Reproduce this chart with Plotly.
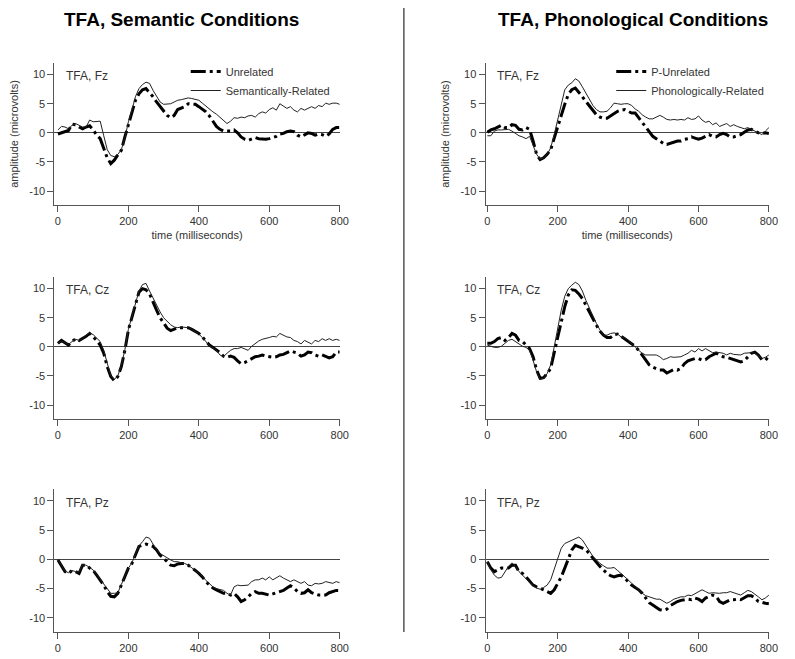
import plotly.graph_objects as go

# time axis (ms), sampled every 10 ms
t = list(range(0, 801, 10))

# --- TFA, Semantic conditions ---
fz_sem_unrel = [-0.2, 0.0, 0.2, 0.4, 1.5, 1.4, 1.0, 0.7, 1.0, 1.2,
                0.5, -0.4, -1.0, -2.8, -4.3, -5.3, -4.7, -3.8, -3.0, -0.7,
                1.3, 3.3, 5.6, 6.7, 7.4, 7.6, 6.9, 6.2, 5.3, 4.5,
                3.6, 3.0, 2.6, 3.0, 4.0, 4.3, 4.5, 5.0, 5.0, 4.9,
                4.5, 4.0, 3.6, 2.9, 2.1, 1.1, 0.6, 0.3, 0.3, 0.3,
                0.5, 0.0, -0.7, -1.1, -1.3, -1.1, -0.8, -1.0, -1.1, -1.1,
                -1.0, -0.8, -0.6, -0.2, -0.1, 0.2, 0.3, 0.2, -0.4, -0.7,
                -0.4, 0.0, -0.1, -0.4, -0.2, -0.3, -0.6, -0.2, 0.6, 0.9,
                0.9]
fz_sem_rel = [0.5, 1.1, 1.0, 0.7, 1.3, 1.6, 1.3, 1.0, 1.0, 2.2,
              1.9, 1.9, 2.0, -0.5, -2.9, -3.9, -4.1, -3.7, -2.9, -0.9,
              1.9, 3.9, 6.2, 7.6, 8.3, 8.7, 8.5, 7.3, 6.2, 5.3,
              4.9, 4.9, 5.0, 5.3, 5.6, 5.7, 5.9, 6.0, 5.9, 5.8,
              5.6, 5.1, 4.6, 4.0, 3.6, 3.2, 2.7, 2.2, 1.6, 2.0,
              2.6, 2.5, 2.7, 2.6, 2.9, 3.0, 2.7, 3.3, 3.6, 3.4,
              4.0, 4.3, 3.9, 5.0, 4.6, 4.2, 4.5, 3.9, 3.6, 4.2,
              3.9, 4.2, 4.5, 4.2, 4.7, 4.5, 5.1, 4.9, 5.1, 5.1,
              4.9]
cz_sem_unrel = [0.6, 1.1, 0.7, 0.3, 0.9, 1.4, 1.1, 1.4, 1.8, 2.3,
                1.7, 1.1, 0.3, -1.1, -3.4, -5.1, -5.8, -5.1, -3.4, -0.6,
                2.9, 5.1, 7.4, 9.4, 10.0, 9.8, 9.1, 7.6, 6.3, 5.0,
                4.0, 3.2, 2.8, 3.1, 3.3, 3.3, 3.3, 3.3, 3.0, 2.6,
                2.3, 1.7, 0.9, 0.3, -0.1, -0.5, -1.0, -1.6, -1.8, -1.6,
                -1.8, -2.4, -2.9, -2.7, -2.4, -2.0, -1.7, -1.6, -1.4, -1.6,
                -1.7, -1.8, -1.7, -1.4, -1.3, -1.0, -0.7, -0.9, -1.1, -1.6,
                -1.4, -0.9, -1.0, -1.4, -1.6, -1.4, -1.7, -1.9, -1.7, -0.9,
                -0.9]
cz_sem_rel = [0.6, 1.0, 0.7, 0.4, 0.9, 1.3, 1.1, 1.4, 2.0, 2.4,
              2.1, 1.5, 0.9, -0.6, -3.0, -5.0, -5.6, -5.0, -3.2, -0.5,
              3.0, 5.3, 7.6, 9.6, 10.7, 10.9, 9.6, 8.3, 7.2, 6.0,
              5.0, 4.4, 3.8, 3.4, 3.3, 3.4, 3.4, 3.3, 3.0, 2.6,
              2.2, 1.6, 0.8, 0.2, -0.2, -0.6, -1.4, -1.7, -1.1, -0.6,
              -0.3, -0.3, -0.1, -0.3, -0.6, 0.1, 0.6, 1.0, 1.3, 1.4,
              1.6, 1.8, 1.7, 2.3, 2.0, 1.7, 1.6, 1.1, 0.9, 0.5,
              1.1, 0.8, 0.5, 1.1, 0.9, 1.4, 1.1, 1.4, 1.1, 1.3,
              1.1]
pz_sem_unrel = [-0.1, -1.0, -2.1, -2.4, -1.9, -2.1, -2.4, -1.0, -1.0, -1.5,
                -1.9, -2.7, -3.5, -4.4, -5.5, -6.3, -6.4, -5.8, -4.4, -2.8,
                -1.5, -0.7, 0.7, 2.2, 2.4, 2.6, 2.4, 2.2, 1.6, 0.7,
                0.2, -0.4, -1.0, -1.1, -0.8, -0.7, -0.7, -1.0, -1.4, -1.9,
                -2.4, -3.0, -3.8, -4.4, -4.9, -5.2, -5.5, -5.8, -5.8, -6.1,
                -5.8, -6.4, -7.2, -6.9, -6.4, -5.8, -5.5, -5.8, -5.8, -5.9,
                -6.1, -5.9, -5.7, -5.5, -5.3, -4.9, -4.5, -4.9, -5.5, -5.8,
                -5.7, -5.2, -5.7, -5.9, -6.1, -6.1, -6.1, -5.7, -5.5, -5.3,
                -5.3]
pz_sem_rel = [-0.1, -1.0, -2.0, -2.3, -1.9, -2.1, -2.2, -0.9, -1.0, -1.4,
              -1.8, -2.6, -3.4, -4.3, -5.2, -5.8, -5.8, -5.7, -4.3, -2.8,
              -1.5, -0.6, 0.9, 2.3, 3.0, 3.8, 3.6, 2.7, 1.6, 1.0,
              0.6, 0.2, -0.1, -0.4, -0.4, -0.6, -0.7, -1.0, -1.4, -1.9,
              -2.4, -2.9, -3.6, -4.2, -4.7, -5.0, -5.2, -5.3, -5.8, -6.1,
              -4.7, -4.4, -4.5, -4.5, -4.4, -3.8, -3.5, -3.5, -3.2, -3.5,
              -3.0, -3.5, -3.2, -2.8, -3.2, -3.5, -3.8, -3.5, -3.8, -4.1,
              -3.8, -4.4, -4.5, -4.1, -4.2, -4.1, -3.8, -4.0, -4.1, -3.8,
              -4.0]

# --- TFA, Phonological conditions ---
fz_pho_unrel = [0.1, 0.5, 0.7, 1.0, 1.3, 0.9, 0.9, 1.4, 1.3, 0.6,
                0.5, 0.9, 0.6, -1.4, -3.7, -4.6, -4.3, -3.7, -2.9, -0.9,
                1.1, 2.9, 4.9, 6.6, 7.4, 7.7, 7.0, 6.2, 5.4, 4.6,
                3.7, 3.1, 2.7, 2.5, 2.5, 2.9, 3.3, 3.7, 3.9, 4.0,
                3.7, 3.4, 3.4, 2.6, 1.7, 0.9, 0.1, -0.6, -1.0, -1.4,
                -1.8, -2.0, -1.8, -1.6, -1.4, -1.4, -1.1, -1.0, -0.7, -0.9,
                -1.1, -0.9, -0.6, -0.3, -0.6, -0.7, -0.3, -0.1, -0.3, -0.7,
                -0.7, -0.5, -0.3, 0.1, 0.5, 0.6, 0.3, 0.0, -0.1, 0.0,
                -0.1]
fz_pho_rel = [-0.5, -0.5, 0.3, 0.5, 0.5, 0.5, 0.6, 0.3, -0.1, -0.5,
              -0.7, -1.0, -0.6, -2.0, -3.7, -4.5, -4.3, -3.7, -2.6, -0.3,
              2.3, 5.1, 7.4, 8.2, 8.6, 9.3, 8.9, 7.9, 6.9, 5.8,
              4.7, 4.0, 3.6, 3.6, 3.7, 4.3, 5.1, 5.0, 4.9, 5.0,
              5.0, 4.7, 4.1, 3.7, 3.1, 2.7, 2.4, 2.4, 2.7, 3.0,
              2.7, 2.3, 2.2, 2.3, 2.2, 2.3, 2.2, 2.6, 2.3, 2.4,
              2.9, 2.2, 1.8, 2.0, 1.4, 1.7, 1.1, 1.4, 1.6, 1.1,
              1.4, 1.1, 0.9, 0.7, 0.9, 0.6, 0.3, 0.1, -0.3, 0.3,
              0.9]
cz_pho_unrel = [0.6, 0.6, 0.9, 1.4, 1.6, 1.1, 1.6, 2.3, 2.0, 1.1,
                0.9, 0.3, -0.3, -1.7, -4.0, -5.4, -5.3, -4.6, -3.7, -1.0,
                1.6, 4.0, 6.9, 8.9, 9.8, 9.7, 9.1, 8.3, 7.1, 6.0,
                4.9, 3.7, 2.7, 2.0, 1.6, 1.6, 2.1, 2.2, 1.8, 1.4,
                0.9, 0.5, 0.1, -0.6, -1.4, -2.3, -3.1, -3.5, -3.7, -4.0,
                -4.0, -4.5, -4.2, -3.9, -4.0, -3.7, -2.9, -2.4, -2.2, -2.0,
                -2.0, -2.3, -2.2, -1.7, -1.4, -1.1, -1.4, -1.7, -1.8, -2.0,
                -2.2, -2.3, -2.6, -2.4, -1.8, -1.1, -0.9, -1.4, -2.2, -2.3,
                -1.6]
cz_pho_rel = [0.3, 0.1, -0.1, -0.1, 0.1, 0.6, 1.1, 1.3, 0.9, 0.5,
              0.1, -0.1, -0.6, -2.3, -4.3, -5.6, -5.4, -4.6, -3.1, 0.0,
              3.4, 6.3, 8.7, 10.0, 10.6, 11.1, 10.7, 9.6, 8.0, 6.6,
              5.1, 4.0, 2.9, 2.0, 2.0, 2.3, 2.4, 2.2, 1.7, 1.6,
              1.1, 0.6, 0.0, -0.6, -1.1, -1.4, -1.4, -1.3, -1.4, -1.7,
              -2.2, -2.0, -1.7, -1.8, -1.7, -1.7, -1.4, -1.1, -0.6, -0.9,
              -0.3, -0.7, -0.3, -0.7, -1.0, -0.9, -1.0, -1.1, -1.4, -1.1,
              -1.3, -1.4, -1.4, -1.1, -1.0, -1.0, -1.1, -1.6, -2.0, -1.8,
              -1.4]
pz_pho_unrel = [-0.4, -1.5, -2.1, -1.8, -1.5, -1.5, -1.5, -1.0, -1.0, -2.1,
                -2.4, -3.0, -3.8, -4.4, -4.7, -4.9, -5.2, -5.5, -5.8, -5.2,
                -4.1, -3.0, -1.5, 0.2, 1.6, 2.4, 2.2, 1.9, 1.6, 1.0,
                0.2, -0.6, -1.2, -1.8, -2.4, -2.8, -3.0, -2.8, -2.7, -3.2,
                -3.8, -4.4, -4.8, -5.2, -5.8, -6.6, -7.4, -7.8, -8.2, -8.6,
                -8.7, -8.5, -7.9, -7.5, -7.2, -7.0, -6.9, -6.8, -6.9, -6.6,
                -6.8, -7.2, -6.6, -6.3, -6.1, -6.3, -7.2, -7.5, -7.2, -6.9,
                -6.9, -6.8, -6.9, -6.6, -6.2, -6.2, -6.6, -7.2, -7.4, -7.5,
                -7.6]
pz_pho_rel = [-0.4, -1.8, -2.7, -3.2, -3.1, -2.1, -1.2, -0.6, -1.2, -2.1,
              -2.7, -3.2, -3.8, -4.5, -4.9, -5.1, -4.8, -4.4, -3.5, -1.8,
              0.2, 1.9, 2.7, 3.0, 3.2, 3.6, 3.8, 3.3, 2.4, 1.3,
              0.5, -0.1, -0.7, -1.1, -1.5, -1.5, -1.4, -1.9, -2.4, -3.0,
              -3.5, -4.1, -4.7, -5.2, -5.8, -6.2, -6.4, -6.6, -6.8, -6.8,
              -7.2, -7.5, -7.2, -6.8, -6.6, -6.4, -6.4, -6.1, -6.2, -5.9,
              -5.5, -5.2, -5.5, -5.8, -5.7, -5.8, -5.8, -5.7, -5.7, -5.5,
              -5.7, -5.9, -6.1, -5.7, -5.3, -5.5, -5.9, -6.4, -6.9, -6.6,
              -6.1]

yticks = [-10, -5, 0, 5, 10]
yticklabels = ['-10', '-5', '0', '5', '10']
xticks = [0, 200, 400, 600, 800]

FONT = 'Liberation Sans, Arial, sans-serif'
THICK = dict(color='black', width=3, dash='15px,4px,3px,4px')
THIN = dict(color='#222', width=1)

# (axis number, label, unrelated, related, unrelated name, related name, legend)
panels = [
    (1, 'TFA, Fz', fz_sem_unrel, fz_sem_rel, 'Unrelated', 'Semantically-Related', 'legend'),
    (2, 'TFA, Fz', fz_pho_unrel, fz_pho_rel, 'P-Unrelated', 'Phonologically-Related', 'legend2'),
    (3, 'TFA, Cz', cz_sem_unrel, cz_sem_rel, 'Unrelated', 'Semantically-Related', None),
    (4, 'TFA, Cz', cz_pho_unrel, cz_pho_rel, 'P-Unrelated', 'Phonologically-Related', None),
    (5, 'TFA, Pz', pz_sem_unrel, pz_sem_rel, 'Unrelated', 'Semantically-Related', None),
    (6, 'TFA, Pz', pz_pho_unrel, pz_pho_rel, 'P-Unrelated', 'Phonologically-Related', None),
]

# the page body has an 8px margin, so the figure is a bit smaller than the window
OFF = 8
W, H = 795 - OFF, 659 - OFF


def px(x):
    return (x - OFF) / W


def py(y):
    return 1 - (y - OFF) / H


xdom = {'L': [px(54), px(343)], 'R': [px(490.7), px(777.7)]}
ydom = [[py(205), py(63)], [py(419), py(277)], [py(632), py(489)]]

fig = go.Figure()
annotations = []
for n, label, unrel, rel, uname, rname, leg in panels:
    sfx = '' if n == 1 else str(n)
    fig.add_trace(go.Scatter(x=t, y=unrel, mode='lines', line=THICK, name=uname,
                             xaxis='x' + sfx, yaxis='y' + sfx,
                             showlegend=leg is not None, legend=leg or 'legend'))
    fig.add_trace(go.Scatter(x=t, y=rel, mode='lines', line=THIN, name=rname,
                             xaxis='x' + sfx, yaxis='y' + sfx,
                             showlegend=leg is not None, legend=leg or 'legend'))
    side = 'L' if n % 2 == 1 else 'R'
    row = (n - 1) // 2
    xa = dict(domain=xdom[side], range=[-10, 800] if side == 'L' else [-5, 800],
              anchor='y' + sfx, tickmode='array', tickvals=xticks,
              showline=True, linecolor='#555', linewidth=1, ticks='outside',
              ticklen=6, tickcolor='#555', showgrid=False, zeroline=False,
              tickfont=dict(size=11, color='#333', family=FONT))
    ya = dict(domain=ydom[row], range=[-12.4, 12], anchor='x' + sfx,
              tickmode='array', tickvals=yticks, ticktext=yticklabels,
              showline=True, linecolor='#555', linewidth=1, ticks='outside',
              ticklen=6, tickcolor='#555', showgrid=False,
              zeroline=True, zerolinecolor='#444', zerolinewidth=1,
              tickfont=dict(size=11, color='#333', family=FONT))
    if row == 0:
        xa['title'] = dict(text='time (milliseconds)', standoff=5,
                           font=dict(size=11, color='#333', family=FONT))
        ya['title'] = dict(text='amplitude (microvolts)', standoff=8,
                           font=dict(size=11, color='#333', family=FONT))
    fig.update_layout({'xaxis' + sfx: xa, 'yaxis' + sfx: ya})
    annotations.append(dict(text=label, xref='x%s domain' % sfx, yref='y%s domain' % sfx,
                            x=0.035, y=0.905, xanchor='left', yanchor='middle',
                            showarrow=False, font=dict(size=12, color='#333', family=FONT)))

annotations.append(dict(text='<b>TFA, Semantic Conditions</b>', xref='paper', yref='paper',
                        x=px(183), y=py(19), xanchor='center', yanchor='middle',
                        showarrow=False, font=dict(size=19, color='black', family=FONT)))
annotations.append(dict(text='<b>TFA, Phonological Conditions</b>', xref='paper', yref='paper',
                        x=px(640), y=py(19), xanchor='center', yanchor='middle',
                        showarrow=False, font=dict(size=19, color='black', family=FONT)))

leg_style = dict(bgcolor='rgba(0,0,0,0)', borderwidth=0, xanchor='left', yanchor='top',
                 font=dict(size=11, color='#333', family=FONT))
fig.update_layout(
    width=W, height=H,
    margin=dict(l=0, r=0, t=0, b=0),
    paper_bgcolor='white', plot_bgcolor='white',
    font=dict(family=FONT),
    annotations=annotations,
    legend=dict(x=px(187), y=py(57), **leg_style),
    legend2=dict(x=px(618), y=py(57), **leg_style),
    shapes=[dict(type='line', xref='paper', yref='paper', x0=px(408), x1=px(408),
                 y0=py(632), y1=py(8), line=dict(color='black', width=1))],
)

fig.write_html("out.html")
